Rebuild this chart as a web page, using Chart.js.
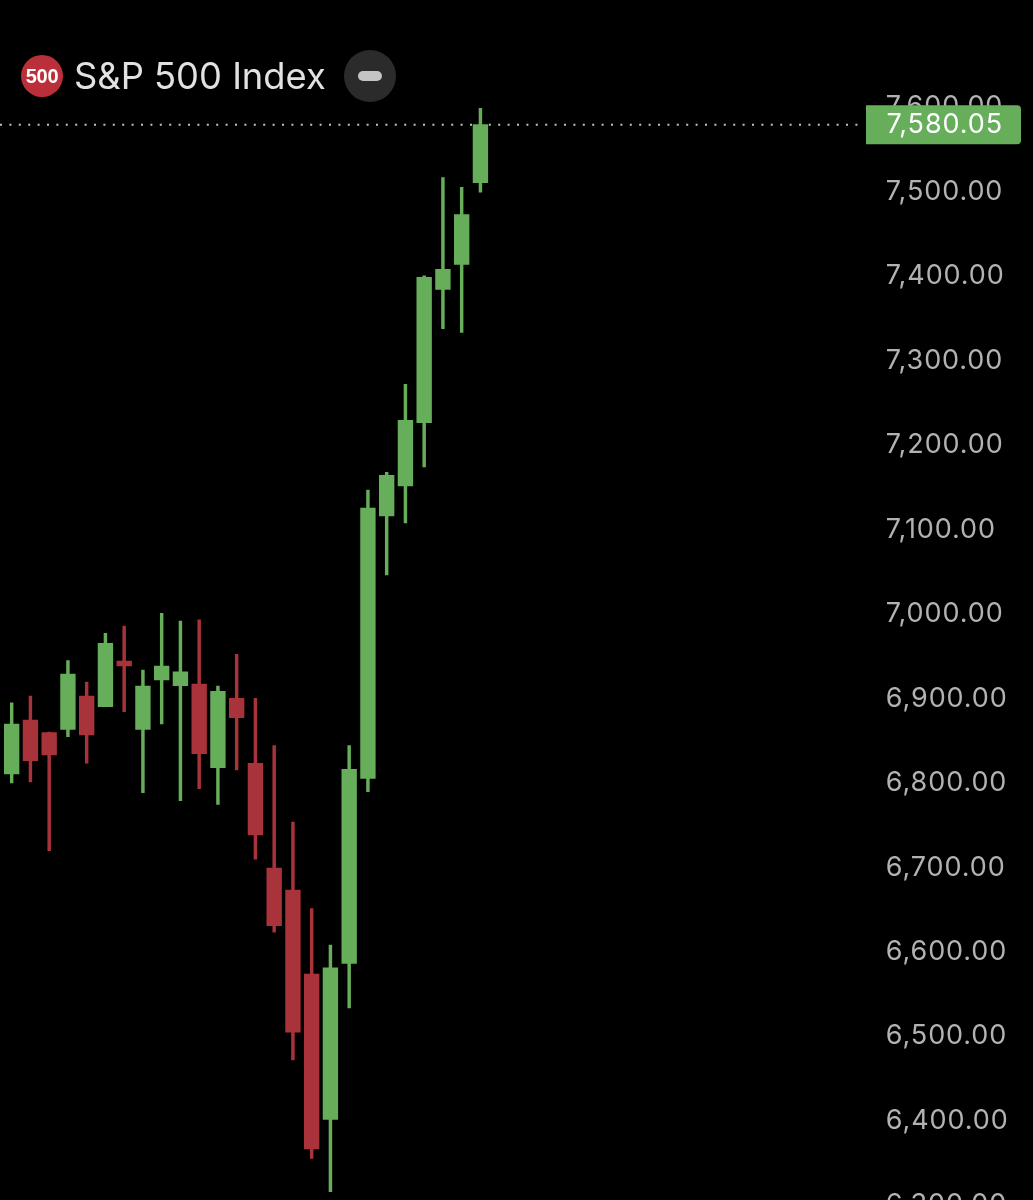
<!DOCTYPE html>
<html><head><meta charset="utf-8">
<script src="https://cdn.jsdelivr.net/npm/chart.js@4"></script>
<style>
html,body{margin:0;padding:0;background:#000;width:1033px;height:1200px;overflow:hidden}
#wrap{position:relative;width:1033px;height:1260px}
canvas{position:absolute;left:0;top:0}
.logo{position:absolute;left:21px;top:55px;width:42px;height:42px;border-radius:50%;background:#bb2f3a;color:#fff;font:700 20px/42px "Liberation Sans",Arial,sans-serif;text-align:center;letter-spacing:-.3px}
.name{position:absolute;left:74px;top:54px;font:400 36.3px/44px Inter,sans-serif;color:#e2e2e2;white-space:nowrap}
.btn{position:absolute;left:344px;top:50px;width:52px;height:52px;border-radius:50%;background:#2b2b2b}
.btn i{position:absolute;left:14px;top:21px;width:24px;height:10px;border-radius:5px;background:#c4c4c4}
</style></head>
<body><div id="wrap">
<canvas id="c" width="1033" height="1260"></canvas>
<div class="logo">500</div><div class="name">S&amp;P 500 Index</div><div class="btn"><i></i></div>
</div>
<script>
const opens  = [6811.2,6875.1,6860.1,6864.1,6903.6,6890.9,6945.0,6864.1,6922.5,6915.8,6917.8,6818.7,6900.8,6823.9,6699.9,6673.8,6574.4,6402.3,6587.0,6806.0,7116.7,7152.2,7227.2,7385.1,7414.7,7511.4];
const highs  = [6895.6,6903.6,6860.9,6945.4,6920.1,6977.8,6986.4,6934.3,7001.5,6992.4,6993.6,6915.4,6952.9,6900.8,6844.7,6754.4,6651.7,6608.7,6844.7,7147.5,7168.5,7272.6,7401.2,7517.3,7505.9,7599.5];
const lows   = [6800.5,6801.7,6720.4,6855.4,6823.9,6890.9,6885.0,6789.1,6870.4,6779.6,6793.8,6775.3,6815.9,6710.2,6623.8,6472.5,6356.1,6316.6,6534.1,6790.2,7046.8,7108.4,7174.7,7338.5,7334.2,7500.0];
const closes = [6870.4,6826.9,6833.7,6929.6,6857.4,6966.0,6939.1,6915.4,6939.1,6932.3,6835.2,6909.1,6877.9,6739.0,6631.6,6505.4,6367.1,6581.8,6816.8,7126.2,7164.9,7230.0,7399.4,7408.8,7473.5,7580.05];
const tickValues = [7600,7500,7400,7300,7200,7100,7000,6900,6800,6700,6600,6500,6400,6300];
const lastPrice = 7580.05;
const emptySlots = 20;

const GREEN = '#67ae5b', RED = '#a8333b';
const labels = opens.map((_, i) => String(i + 1)).concat(Array(emptySlots).fill(''));
const colors = opens.map((o, i) => closes[i] >= o ? GREEN : RED);
const fmt = v => v.toLocaleString('en-US', {minimumFractionDigits: 2, maximumFractionDigits: 2});
const FONT = '400 27px Inter, sans-serif';

const priceLine = {
  id: 'priceLine',
  beforeDraw(chart) { chart.ctx.letterSpacing = '0.9px'; },
  beforeDatasetsDraw(chart) {
    const y = chart.scales.y.getPixelForValue(lastPrice), ctx = chart.ctx;
    ctx.save();
    ctx.strokeStyle = '#b4ccae'; ctx.lineWidth = 2; ctx.setLineDash([2, 7.4]);
    ctx.beginPath(); ctx.moveTo(0, y); ctx.lineTo(860, y); ctx.stroke();
    ctx.restore();
  },
  afterDraw(chart) {
    const y = chart.scales.y.getPixelForValue(lastPrice), ctx = chart.ctx;
    ctx.save();
    ctx.fillStyle = GREEN;
    ctx.beginPath(); ctx.roundRect(866, y - 19.5, 155, 39, [0, 4, 4, 0]); ctx.fill();
    ctx.fillStyle = '#ffffff'; ctx.font = FONT;
    ctx.textAlign = 'left'; ctx.textBaseline = 'middle';
    ctx.fillText(fmt(lastPrice), 886.5, y);
    ctx.restore();
  }
};

new Chart(document.getElementById('c'), {
  type: 'bar',
  data: { labels, datasets: [
    { label: 'Wick', data: highs.map((h, i) => [lows[i], h]), backgroundColor: colors, barThickness: 2.8, grouped: false, order: 2 },
    { label: 'Body', data: opens.map((o, i) => [o, closes[i]]), backgroundColor: colors, barThickness: 14.7, grouped: false, order: 1 }
  ]},
  options: {
    responsive: false, animation: false, devicePixelRatio: 1,
    layout: { padding: { left: 2.3, right: 0, top: 0, bottom: 0 } },
    plugins: { legend: { display: false }, tooltip: { enabled: false } },
    scales: {
      x: { display: false, grid: { display: false } },
      y: {
        position: 'right', min: 6235.7, max: 7727.7,
        grid: { display: false, drawTicks: false }, border: { display: false },
        afterBuildTicks: s => { s.ticks = tickValues.map(value => ({ value })); },
        afterFit: s => { s.width = 168.2; s.paddingTop = 0; s.paddingBottom = 0; },
        ticks: { autoSkip: false, color: '#b2b2b2', font: { family: 'Inter, sans-serif', size: 27, weight: '400' },
                 crossAlign: 'near', padding: 21, labelOffset: -0.5, callback: v => fmt(v) }
      }
    }
  },
  plugins: [priceLine]
});
</script></body></html>
